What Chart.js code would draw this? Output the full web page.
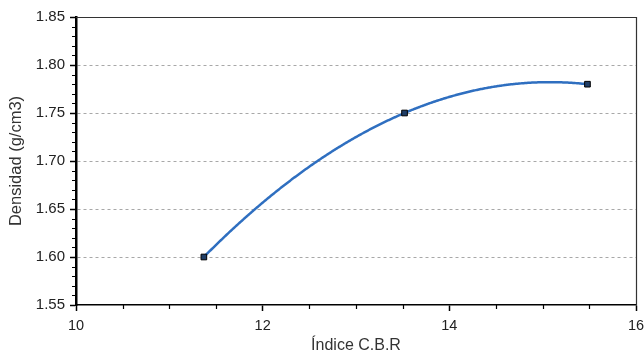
<!DOCTYPE html>
<html>
<head>
<meta charset="utf-8">
<script src="https://cdn.jsdelivr.net/npm/chart.js@4"></script>
<style>
  html, body { margin: 0; padding: 0; background: #ffffff; }
  #wrap { width: 644px; height: 363px; }
</style>
</head>
<body>
<div id="wrap"><canvas id="c" width="644" height="363"></canvas></div>
<script>
// ---- data ----
const cbrValues = [11.37, 13.52, 15.48];          // Índice C.B.R
const densidadValues = [1.60, 1.75, 1.78];         // Densidad (g/cm3)
const yTickValues = [1.55, 1.60, 1.65, 1.70, 1.75, 1.80, 1.85];
const xTickValues = [10, 12, 14, 16];
const xTitle = 'Índice C.B.R';
const yTitle = 'Densidad (g/cm3)';
const trendDegree = 2;   // curve through the points: 2nd-order polynomial trendline

const points = cbrValues.map((x, i) => ({ x: x, y: densidadValues[i] }));
const FONT = '"Liberation Sans", Arial, Helvetica, sans-serif';
const LINE_COLOR = '#2f6fc0';

const near = (a, b) => Math.abs(a - b) < 1e-6;

// least-squares polynomial fit of the data arrays
function polyFit(xs, ys, deg) {
  const n = deg + 1;
  const A = Array.from({ length: n }, () => new Array(n + 1).fill(0));
  for (let k = 0; k < xs.length; k++) {
    for (let r = 0; r < n; r++) {
      for (let c = 0; c < n; c++) A[r][c] += Math.pow(xs[k], r + c);
      A[r][n] += ys[k] * Math.pow(xs[k], r);
    }
  }
  for (let i = 0; i < n; i++) {
    let p = i;
    for (let r = i + 1; r < n; r++) if (Math.abs(A[r][i]) > Math.abs(A[p][i])) p = r;
    [A[i], A[p]] = [A[p], A[i]];
    for (let r = 0; r < n; r++) {
      if (r === i) continue;
      const f = A[r][i] / A[i][i];
      for (let c = i; c <= n; c++) A[r][c] -= f * A[i][c];
    }
  }
  return A.map((row, i) => row[n] / row[i]);
}

const trendPlugin = {
  id: 'trend',
  beforeDatasetsDraw(chart) {
    const { ctx, scales } = chart;
    const xs = scales.x, ys = scales.y;
    const coef = polyFit(cbrValues, densidadValues, trendDegree);
    const f = v => coef.reduce((s, c, i) => s + c * Math.pow(v, i), 0);
    const p0 = xs.getPixelForValue(Math.min(...cbrValues));
    const p1 = xs.getPixelForValue(Math.max(...cbrValues));
    ctx.save();
    ctx.strokeStyle = LINE_COLOR;
    ctx.lineWidth = 2.5;
    ctx.lineJoin = 'round';
    ctx.lineCap = 'round';
    ctx.beginPath();
    for (let px = p0; px <= p1 + 0.01; px += 1) {
      const pxc = Math.min(px, p1);
      const py = ys.getPixelForValue(f(xs.getValueForPixel(pxc)));
      if (px === p0) ctx.moveTo(pxc, py); else ctx.lineTo(pxc, py);
    }
    ctx.lineTo(p1, ys.getPixelForValue(f(Math.max(...cbrValues))));
    ctx.stroke();
    ctx.restore();
  }
};

const framePlugin = {
  id: 'frame',
  afterDraw(chart) {
    const { ctx, chartArea: a, scales } = chart;
    ctx.save();
    ctx.strokeStyle = '#333333';
    ctx.lineWidth = 1.2;
    ctx.beginPath();
    ctx.moveTo(a.left, a.top + 0.5);
    ctx.lineTo(a.right + 0.5, a.top + 0.5);
    ctx.lineTo(a.right + 0.5, a.bottom);
    ctx.stroke();
    // minor ticks
    ctx.strokeStyle = '#000000';
    ctx.lineWidth = 1.2;
    const ys = scales.y, xs = scales.x;
    const yMinor = 0.01, xMinor = 0.5;
    ctx.beginPath();
    for (let v = ys.min; v <= ys.max + 1e-9; v += yMinor) {
      if (yTickValues.some(t => near(t, v))) continue;
      const py = Math.round(ys.getPixelForValue(v)) + 0.5;
      ctx.moveTo(a.left - 4, py);
      ctx.lineTo(a.left, py);
    }
    for (let v = xs.min; v <= xs.max + 1e-9; v += xMinor) {
      if (xTickValues.some(t => near(t, v))) continue;
      const px = Math.round(xs.getPixelForValue(v)) + 0.5;
      ctx.moveTo(px, a.bottom);
      ctx.lineTo(px, a.bottom + 4);
    }
    ctx.stroke();
    ctx.restore();
  }
};

new Chart(document.getElementById('c'), {
  type: 'scatter',
  data: {
    datasets: [{
      label: 'Densidad',
      data: points,
      showLine: false,
      borderColor: LINE_COLOR,
      pointStyle: 'rect',
      pointRadius: 4,
      pointBackgroundColor: '#1f3d66',
      pointBorderColor: '#000000',
      pointBorderWidth: 1,
      clip: false
    }]
  },
  options: {
    responsive: false,
    animation: false,
    devicePixelRatio: 1,
    layout: { padding: { left: 0, right: 8, top: 17, bottom: 0 } },
    plugins: { legend: { display: false }, tooltip: { enabled: false } },
    scales: {
      x: {
        type: 'linear',
        min: 10, max: 16,
        afterBuildTicks(scale) { scale.ticks = xTickValues.map(v => ({ value: v })); },
        afterFit(scale) { scale.height = 58; scale.paddingLeft = 0; scale.paddingRight = 0; },
        ticks: {
          color: '#222222',
          font: { family: FONT, size: 14.5 },
          padding: 6,
          maxRotation: 0,
          callback: v => String(v)
        },
        grid: {
          drawOnChartArea: false,
          drawTicks: true,
          tickLength: 6,
          tickColor: '#000000',
          tickWidth: 1.5
        },
        border: { display: true, color: '#000000', width: 1.5 },
        title: {
          display: true,
          text: xTitle,
          color: '#333333',
          font: { family: FONT, size: 16 },
          padding: { top: 0, bottom: 8 }
        }
      },
      y: {
        type: 'linear',
        min: 1.55, max: 1.85,
        afterBuildTicks(scale) { scale.ticks = yTickValues.map(v => ({ value: v })); },
        afterFit(scale) { scale.width = 76; scale.paddingTop = 0; scale.paddingBottom = 0; },
        ticks: {
          color: '#222222',
          font: { family: FONT, size: 15 },
          padding: 5,
          callback: v => Number(v).toFixed(2)
        },
        grid: {
          drawOnChartArea: true,
          drawTicks: true,
          tickLength: 6,
          tickColor: '#000000',
          tickWidth: 1.5,
          lineWidth: 1,
          color: ctx => {
            const v = ctx.tick ? ctx.tick.value : null;
            if (v === null || near(v, 1.55) || near(v, 1.85)) return 'rgba(0,0,0,0)';
            return '#a8a8a8';
          }
        },
        border: { display: true, color: '#000000', width: 2.5, dash: [3, 3] },
        title: {
          display: true,
          text: yTitle,
          color: '#333333',
          font: { family: FONT, size: 16.5 },
          padding: { top: 7, bottom: 0 }
        }
      }
    }
  },
  plugins: [trendPlugin, framePlugin]
});
</script>
</body>
</html>
